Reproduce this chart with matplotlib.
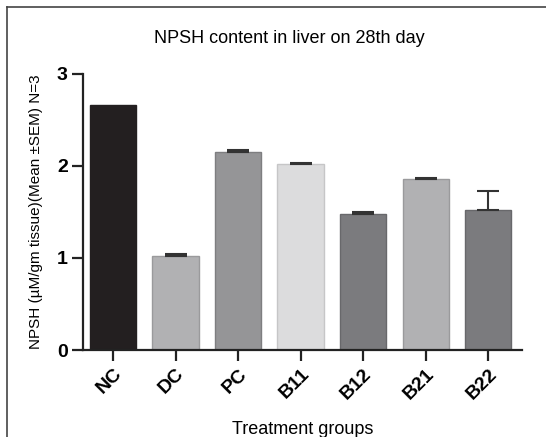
import matplotlib.pyplot as plt
from matplotlib.lines import Line2D

# NPSH content in liver, 28th day
groups = ['NC', 'DC', 'PC', 'B11', 'B12', 'B21', 'B22']
means = [2.66, 1.02, 2.15, 2.02, 1.48, 1.86, 1.52]
sem = [0.0, 0.02, 0.02, 0.01, 0.02, 0.01, 0.21]
bar_colors = ['#231f20', '#b1b1b3', '#959597', '#dcdcdd', '#7b7b7e', '#b1b1b3', '#7b7b7e']
edge_colors = ['#231f20', '#9a9a9c', '#7e7e80', '#c6c6c7', '#68686b', '#9a9a9c', '#68686b']

plt.rcParams['font.family'] = ['Liberation Sans', 'DejaVu Sans']

fig = plt.figure(figsize=(5.46, 4.37), dpi=100)
ax = fig.add_axes([0.152, 0.199, 0.804, 0.632])

x = list(range(len(groups)))
ax.bar(x, means, width=0.74, color=bar_colors, edgecolor=edge_colors, linewidth=1, zorder=2)
# only groups with a non-zero SEM get an error bar
err_x = [xi for xi, s in zip(x, sem) if s > 0]
err_m = [m for m, s in zip(means, sem) if s > 0]
err_s = [s for s in sem if s > 0]
ax.errorbar(err_x, err_m, yerr=[[0] * len(err_s), err_s], fmt='none', ecolor='#333333',
            elinewidth=1.5, capsize=8, capthick=1.5, zorder=3)

ax.set_xlim(-0.48, 6.54)
ax.set_ylim(0, 3)
ax.set_yticks([0, 1, 2, 3])
ax.set_xticks(x)
ax.set_xticklabels(groups, rotation=45, ha='right', rotation_mode='anchor',
                   fontsize=14, fontweight='bold')
for lbl in ax.get_yticklabels():
    lbl.set_fontsize(14)
    lbl.set_fontweight('bold')

for side in ['top', 'right']:
    ax.spines[side].set_visible(False)
for side in ['left', 'bottom']:
    ax.spines[side].set_linewidth(1.6)
    ax.spines[side].set_color('#222222')
ax.tick_params(direction='out', length=8, width=1.6, color='#222222', pad=3)

ax.set_title('NPSH content in liver on 28th day', fontsize=13, pad=22, x=0.47)
ax.set_xlabel('Treatment groups', fontsize=13, labelpad=13)
ax.set_ylabel('NPSH (µM/gm tissue)(Mean ±SEM) N=3', fontsize=11, labelpad=10)

# outer frame (left and top edges)
fig.add_artist(Line2D([7 / 546, 7 / 546], [0, 1 - 7 / 437], transform=fig.transFigure,
                      color='#444444', linewidth=1.2))
fig.add_artist(Line2D([7 / 546, 1], [1 - 7 / 437, 1 - 7 / 437], transform=fig.transFigure,
                      color='#444444', linewidth=1.2))

fig.savefig('out.png', dpi=100)
